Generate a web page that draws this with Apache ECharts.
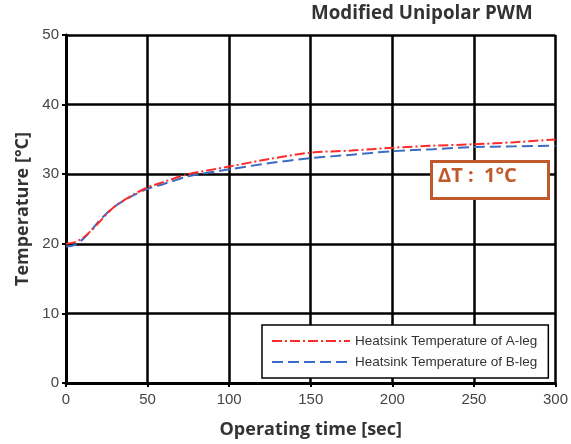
<!DOCTYPE html>
<html><head><meta charset="utf-8">
<script src="https://cdn.jsdelivr.net/npm/echarts@6/dist/echarts.min.js"></script>
<style>html,body{margin:0;padding:0;background:#fff}#c{width:571px;height:444px}</style>
</head><body><div id="c"></div>
<script>
const times = [0,5,10,15,20,25,30,40,50,60,75,100,125,150,175,200,225,250,275,300];
const aLeg = [20,20.2,20.8,21.8,23.0,24.3,25.4,26.9,28.1,28.9,30.0,31.1,32.2,33.1,33.4,33.8,34.1,34.3,34.6,35.0];
const bLeg = [19.6,19.8,20.6,21.8,23.2,24.4,25.4,26.8,27.9,28.6,29.7,30.7,31.6,32.3,32.8,33.3,33.6,33.9,34.0,34.1];
const seriesNames = ['Heatsink Temperature of A-leg','Heatsink Temperature of B-leg'];
const xTicks = [0,50,100,150,200,250,300];
const yTicks = [0,10,20,30,40,50];
const title = 'Modified Unipolar PWM';
const note = 'ΔT :  1°C';

const chart = echarts.init(document.getElementById('c'));
const pair = (xs, ys) => xs.map((x,i)=>[x, ys[i]]);
chart.setOption({
  animation:false,
  backgroundColor:'#fff',
  title:{text:title, left:311, top:4, padding:0, textStyle:{fontFamily:'Open Sans', fontWeight:'bold', fontSize:18.8, color:'#333'}},
  grid:{left:66, right:15, top:35, bottom:60},
  xAxis:{type:'value', min:xTicks[0], max:xTicks[xTicks.length-1], interval:50,
    name:'Operating time [sec]', nameLocation:'middle', nameGap:38,
    nameTextStyle:{fontFamily:'Open Sans', fontWeight:'bold', fontSize:18, color:'#333'},
    axisLine:{lineStyle:{color:'#000', width:3}},
    axisTick:{show:true, length:4, lineStyle:{color:'#000', width:2}},
    axisLabel:{fontFamily:'Liberation Sans', fontSize:15, color:'#444', margin:9},
    splitLine:{show:true, lineStyle:{color:'#000', width:2.5}}},
  yAxis:{type:'value', min:yTicks[0], max:yTicks[yTicks.length-1], interval:10,
    name:'Temperature [°C]', nameLocation:'middle', nameGap:34, nameRotate:90,
    nameTextStyle:{fontFamily:'Open Sans', fontWeight:'bold', fontSize:18, color:'#333'},
    axisLine:{show:true, lineStyle:{color:'#000', width:3}},
    axisTick:{show:true, length:4, lineStyle:{color:'#000', width:2}},
    axisLabel:{fontFamily:'Liberation Sans', fontSize:15, color:'#444', margin:7},
    splitLine:{show:true, lineStyle:{color:'#000', width:2.5}}},
  legend:{orient:'vertical', left:262, top:325, itemWidth:78, itemHeight:14, itemGap:7,
    backgroundColor:'#fff', borderColor:'#000', borderWidth:1.5, padding:[9,11,9,9],
    itemStyle:{opacity:0},
    textStyle:{fontFamily:'Liberation Sans', fontSize:13.5, color:'#333'},
    data:seriesNames},
  series:[
    {name:seriesNames[0], type:'line', data:pair(times,aLeg), showSymbol:false, symbol:'none', smooth:0.3,
     color:'#ff2a2a', lineStyle:{color:'#ff2a2a', width:2, type:[10,3,2,3]}, z:3},
    {name:seriesNames[1], type:'line', data:pair(times,bLeg), showSymbol:false, symbol:'none', smooth:0.3,
     color:'#3b6cc4', lineStyle:{color:'#3b6cc4', width:2, type:[11,5]}, z:2}
  ],
  graphic:[
    {type:'rect', left:430, top:160, shape:{width:117, height:37}, style:{fill:'#fff', stroke:'#c05a2c', lineWidth:3}, z:10},
    {type:'text', left:438, top:166, style:{text:note, fill:'#c05a2c', font:'bold 20px "Open Sans"'}, z:11}
  ]
});
</script></body></html>
